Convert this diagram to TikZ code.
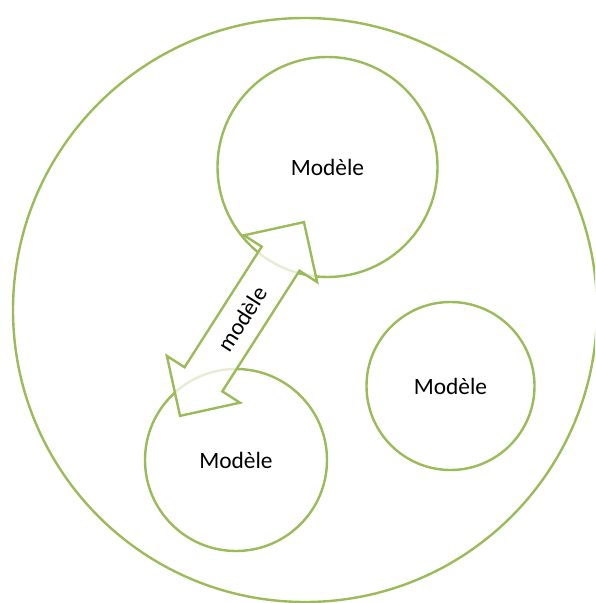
\documentclass[tikz,border=0pt]{standalone}
\usepackage{fontspec}
\setmainfont{Carlito}
\usetikzlibrary{shapes.arrows}
\definecolor{leaf}{HTML}{9BBB59}
\tikzset{
  bubble/.style={circle, draw=leaf, line width=1.2pt, inner sep=0pt,
    font=\fontsize{11.7}{14}\selectfont},
  link/.style={double arrow, draw=leaf, line width=1.2pt, fill=white,
    fill opacity=0.75, text opacity=1, double arrow tip angle=90,
    double arrow head extend=10.5pt, text height=8pt, text depth=0pt,
    inner ysep=6.6pt, minimum height=115pt, font=\fontsize{11.7}{14}\selectfont}
}
\begin{document}
\begin{tikzpicture}[x=0.5pt,y=-0.5pt]
% frame of the picture
\useasboundingbox (0,0) rectangle (595,603);
\clip (0,0) rectangle (595,603);

% outer circle and the three models
\node[bubble, minimum size=292pt] (world) at (305,310) {};
\node[bubble, minimum size=110pt] (top) at (327.5,167) {Modèle};
\node[bubble, minimum size=84pt] (right) at (450.5,386) {Modèle};
\node[bubble, minimum size=91pt] (low) at (236,460) {Modèle};

% link between two models
\node[link, rotate=57.4] (relation) at (242,319) {modèle};
\end{tikzpicture}
\end{document}
